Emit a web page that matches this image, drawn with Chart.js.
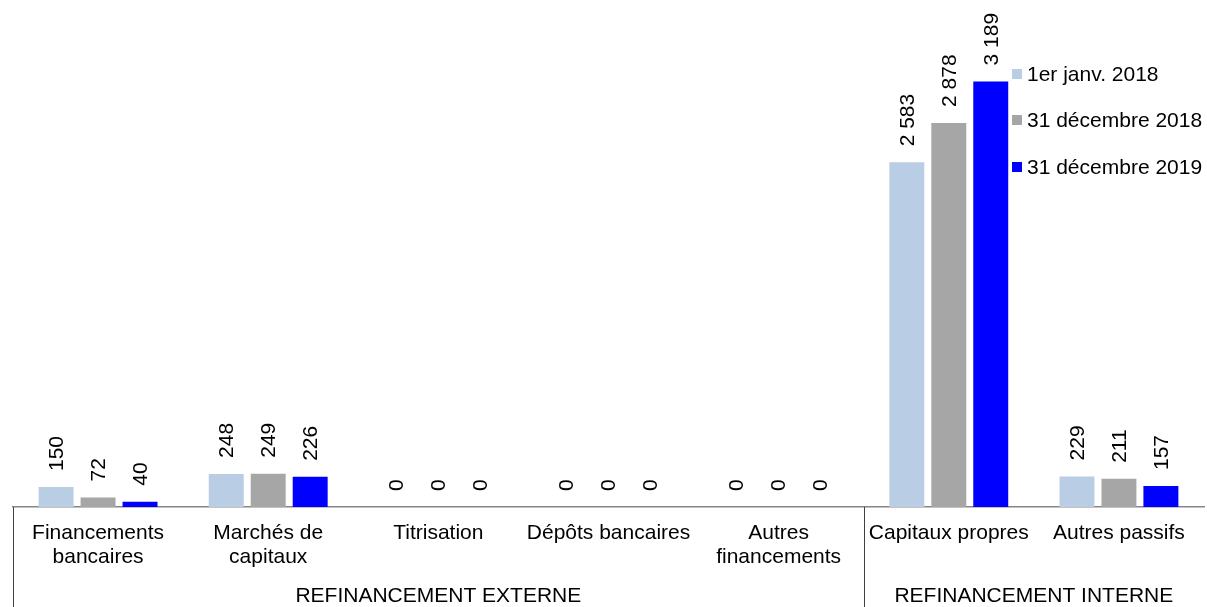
<!DOCTYPE html>
<html lang="fr">
<head>
<meta charset="utf-8">
<title>Refinancement</title>
<script src="https://cdn.jsdelivr.net/npm/chart.js@4.4.1/dist/chart.umd.min.js"></script>
<style>
  html, body { margin: 0; padding: 0; background: #ffffff; }
  #wrap { position: relative; width: 1207px; height: 607px; }
</style>
</head>
<body>
<div id="wrap"><canvas id="chart"></canvas></div>
<script>
// Categories (multi-line tick labels)
const categories = [
  ['Financements', 'bancaires'],
  ['Marchés de', 'capitaux'],
  ['Titrisation'],
  ['Dépôts bancaires'],
  ['Autres', 'financements'],
  ['Capitaux propres'],
  ['Autres passifs']
];

// Series values
const seriesNames = ['1er janv. 2018', '31 décembre 2018', '31 décembre 2019'];
const valuesJan2018 = [150, 248, 0, 0, 0, 2583, 229];
const valuesDec2018 = [72, 249, 0, 0, 0, 2878, 211];
const valuesDec2019 = [40, 226, 0, 0, 0, 3189, 157];
const seriesColors = ['#B9CDE5', '#A6A6A6', '#0000FF'];

// Category groups shown on the bottom row
const groupLabels = ['REFINANCEMENT EXTERNE', 'REFINANCEMENT INTERNE'];
const groupStart = [0, 5];
const groupEnd = [4, 6];

const FONT = '"Liberation Sans", Arial, Helvetica, sans-serif';
const FONT_SIZE = 21;

// French thousands separator
function fmt(v) {
  return String(v).replace(/\B(?=(\d{3})+(?!\d))/g, ' ');
}

const decorations = {
  id: 'decorations',
  afterDatasetsDraw(chart) {
    const ctx = chart.ctx;
    const area = chart.chartArea;
    const x = chart.scales.x;

    // rotated value labels above each bar
    ctx.save();
    ctx.font = FONT_SIZE + 'px ' + FONT;
    ctx.fillStyle = '#000000';
    ctx.textAlign = 'left';
    ctx.textBaseline = 'middle';
    chart.data.datasets.forEach((ds, di) => {
      const meta = chart.getDatasetMeta(di);
      meta.data.forEach((bar, i) => {
        ctx.save();
        ctx.translate(bar.x, bar.y - 16);
        ctx.rotate(-Math.PI / 2);
        ctx.fillText(fmt(ds.data[i]), 0, 1);
        ctx.restore();
      });
    });
    ctx.restore();

    // group separators and group names
    const step = x.getPixelForValue(1) - x.getPixelForValue(0);
    ctx.save();
    ctx.strokeStyle = '#404040';
    ctx.lineWidth = 1;
    ctx.font = FONT_SIZE + 'px ' + FONT;
    ctx.fillStyle = '#000000';
    ctx.textAlign = 'center';
    ctx.textBaseline = 'middle';
    groupLabels.forEach((label, g) => {
      const left = x.getPixelForValue(groupStart[g]) - step / 2;
      const right = x.getPixelForValue(groupEnd[g]) + step / 2;
      const lx = Math.round(left) + 0.5;
      ctx.beginPath();
      ctx.moveTo(lx, area.bottom);
      ctx.lineTo(lx, chart.height);
      ctx.stroke();
      ctx.fillText(label, (left + right) / 2, 596);
    });
    ctx.restore();

    // legend
    ctx.save();
    ctx.font = FONT_SIZE + 'px ' + FONT;
    ctx.textAlign = 'left';
    ctx.textBaseline = 'middle';
    const legendX = 1012;
    const legendY = [74, 120, 167];
    seriesNames.forEach((name, i) => {
      ctx.fillStyle = seriesColors[i];
      ctx.fillRect(legendX, legendY[i] - 5, 10, 10);
      ctx.fillStyle = '#000000';
      ctx.fillText(name, legendX + 15, legendY[i] + 1);
    });
    ctx.restore();
  }
};

new Chart(document.getElementById('chart'), {
  type: 'bar',
  data: {
    labels: categories,
    datasets: [
      { label: seriesNames[0], data: valuesJan2018, backgroundColor: seriesColors[0] },
      { label: seriesNames[1], data: valuesDec2018, backgroundColor: seriesColors[1] },
      { label: seriesNames[2], data: valuesDec2019, backgroundColor: seriesColors[2] }
    ]
  },
  options: {
    responsive: true,
    maintainAspectRatio: false,
    animation: false,
    layout: { padding: { top: 40, left: 13, right: 3, bottom: 0 } },
    datasets: {
      bar: { categoryPercentage: 0.74, barPercentage: 0.833 }
    },
    plugins: {
      legend: { display: false },
      tooltip: { enabled: false }
    },
    scales: {
      x: {
        grid: { display: false, drawTicks: false },
        border: { display: true, color: '#868686', width: 1.5 },
        ticks: {
          color: '#000000',
          font: { family: FONT, size: FONT_SIZE, lineHeight: 1.15 },
          padding: 14,
          maxRotation: 0,
          autoSkip: false
        },
        afterFit(scale) { scale.height = 100; }
      },
      y: {
        display: false,
        min: 0,
        max: 3500
      }
    }
  },
  plugins: [decorations]
});
</script>
</body>
</html>
